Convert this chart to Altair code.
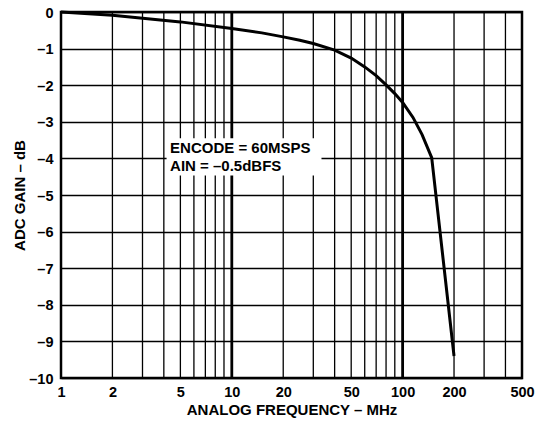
import altair as alt
import pandas as pd

# Curve data
freq_mhz = [1, 2, 5, 10, 15, 20, 25, 30, 40, 50, 60, 70, 80, 90, 100, 115, 130, 148, 200]
gain_db = [0, -0.09, -0.27, -0.45, -0.57, -0.68, -0.77, -0.86, -1.04, -1.26, -1.50,
           -1.74, -1.99, -2.23, -2.47, -2.88, -3.35, -3.98, -9.4]

# Axis tick labels / grid positions
x_labels = [1, 2, 5, 10, 20, 50, 100, 200, 500]
x_grid_minor = [2, 3, 4, 5, 6, 7, 8, 9, 20, 30, 40, 50, 60, 70, 80, 90, 200, 300, 400]
x_grid_major = [10, 100]
y_ticks = [0, -1, -2, -3, -4, -5, -6, -7, -8, -9, -10]

# Annotation
note_lines = ["ENCODE = 60MSPS", "AIN = \u20130.5dBFS"]
note_freq = [4.35, 4.35]
note_gain = [-3.72, -4.21]
note_box_freq = [4.15, 33.5]
note_box_gain = [-3.45, -4.47]

FONT = "Liberation Sans"

xscale = alt.Scale(type="log", domain=[1, 500], nice=False)
yscale = alt.Scale(domain=[-10, 0], nice=False)

curve_df = pd.DataFrame({"f": freq_mhz, "g": gain_db})
minor_df = pd.DataFrame({"f": x_grid_minor})
major_df = pd.DataFrame({"f": x_grid_major})
note_df = pd.DataFrame({"f": note_freq, "g": note_gain, "t": note_lines})
box_df = pd.DataFrame({"f": [note_box_freq[0]], "f2": [note_box_freq[1]],
                       "g": [note_box_gain[0]], "g2": [note_box_gain[1]]})

x_axis = alt.Axis(values=x_labels, title="ANALOG FREQUENCY \u2013 MHz", grid=False,
                  ticks=False, domain=False, labelFont=FONT, labelFontSize=14.5,
                  labelFontWeight="bold", labelColor="black", labelPadding=7,
                  titleFont=FONT, titleFontSize=15, titleFontWeight="bold",
                  titleColor="black", titlePadding=4, labelFlush=False,
                  labelExpr="format(datum.value, 'd')")
y_axis = alt.Axis(values=y_ticks, title="ADC GAIN \u2013 dB", grid=True,
                  gridColor="black", gridWidth=1.3, gridOpacity=1,
                  ticks=False, domain=False, labelFont=FONT, labelFontSize=14.5,
                  labelFontWeight="bold", labelColor="black", labelPadding=8,
                  labelOffset=1,
                  titleFont=FONT, titleFontSize=15, titleFontWeight="bold",
                  titleColor="black", titlePadding=1, labelFlush=False,
                  labelExpr="datum.value < 0 ? '\u2013' + (-datum.value) : '' + datum.value")

minor = alt.Chart(minor_df).mark_rule(color="black", strokeWidth=1.3).encode(
    x=alt.X("f:Q", scale=xscale, axis=x_axis))
major = alt.Chart(major_df).mark_rule(color="black", strokeWidth=2.8).encode(
    x=alt.X("f:Q", scale=xscale, axis=x_axis))
box = alt.Chart(box_df).mark_rect(color="white").encode(
    x=alt.X("f:Q", scale=xscale, axis=x_axis), x2="f2:Q",
    y=alt.Y("g:Q", scale=yscale, axis=y_axis), y2="g2:Q")
note = alt.Chart(note_df).mark_text(align="left", baseline="middle", font=FONT,
                                    fontSize=15, fontWeight="bold", color="black").encode(
    x=alt.X("f:Q", scale=xscale, axis=x_axis),
    y=alt.Y("g:Q", scale=yscale, axis=y_axis), text="t:N")
curve = alt.Chart(curve_df).mark_line(color="black", strokeWidth=3).encode(
    x=alt.X("f:Q", scale=xscale, axis=x_axis),
    y=alt.Y("g:Q", scale=yscale, axis=y_axis))

chart = alt.layer(minor, major, box, note, curve).properties(
    width=461, height=366,
    autosize=alt.AutoSizeParams(type="none"),
    padding={"left": 53, "top": 4, "right": 14, "bottom": 40},
    background="white",
).configure_view(stroke="black", strokeWidth=2.5)

chart.save("out.html", embed_options={"renderer": "svg", "actions": False})
